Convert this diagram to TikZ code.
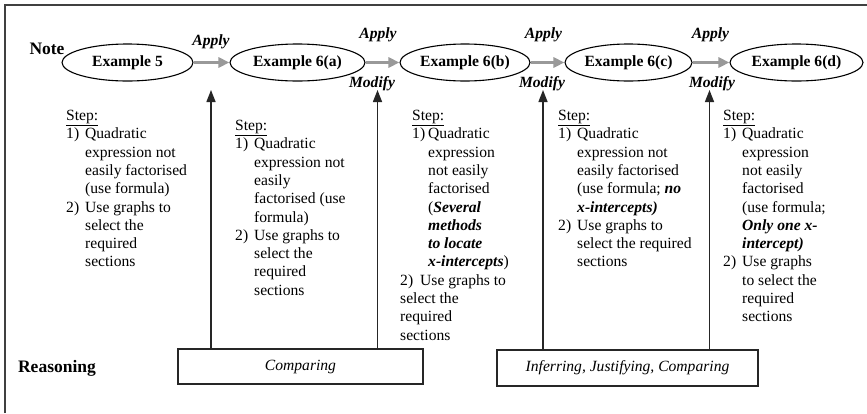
\documentclass[tikz,border=0pt]{standalone}
\usepackage{fontspec}
\setmainfont{Liberation Serif}
\usetikzlibrary{shapes.geometric,arrows.meta}
\newcommand\itmlbl[1]{\makebox[19pt][l]{#1}}
\newcommand\itmind{\hspace*{19pt}}
\newcommand\bitx[1]{\textbf{\textit{#1}}}
\begin{document}
\begin{tikzpicture}[x=1pt,y=-1pt,
  frameline/.style={draw=black!75,line width=1.4pt},
  ell/.style={draw,ellipse,line width=1.1pt,inner sep=0pt,minimum height=37pt,
    font=\fontsize{15.6}{18}\selectfont\bfseries},
  garrow/.style={draw=black!40,line width=3pt,
    -{Triangle[length=11pt,width=10pt,fill=black!40]}},
  varrow/.style={draw=black!85,line width=1.4pt,
    -{Triangle[length=12pt,width=9pt,fill=black!85]}},
  lbl/.style={inner sep=0pt,font=\fontsize{15.6}{18}\selectfont\bfseries\itshape},
  rowlbl/.style={inner sep=0pt,font=\fontsize{17.5}{20}\selectfont\bfseries},
  coltext/.style={anchor=north west,inner sep=0pt,align=left,
    font=\fontsize{15.6}{18.3}\selectfont},
  rbox/.style={draw=black!85,line width=1.2pt,inner sep=0pt,
    font=\fontsize{15.6}{18}\selectfont\itshape}]
\useasboundingbox (0,0) rectangle (867,413);
\fill[white] (0,0) rectangle (867,413);
\draw[frameline] (5,413) -- (5,5) -- (867,5);

% labels of rows
\node[rowlbl] (note) at (47,49) {Note};
\node[rowlbl] (reas) at (57,368) {Reasoning};

% ellipses
\node[ell,minimum width=131pt] (e1) at (127.5,62.5) {Example 5};
\node[ell,minimum width=135pt] (e2) at (297.5,62.5) {Example 6(a)};
\node[ell,minimum width=130pt] (e3) at (465,62.5) {Example 6(b)};
\node[ell,minimum width=127pt] (e4) at (628.5,62.5) {Example 6(c)};
\node[ell,minimum width=133pt] (e5) at (796.5,62.5) {Example 6(d)};

\draw[garrow] (e1) -- (e2);
\draw[garrow] (e2) -- (e3);
\draw[garrow] (e3) -- (e4);
\draw[garrow] (e4) -- (e5);

\node[lbl] (a1) at (211,42) {Apply};
\node[lbl] (a2) at (378,35) {Apply};
\node[lbl] (a3) at (543.5,35) {Apply};
\node[lbl] (a4) at (710.5,35) {Apply};

\node[lbl] (m1) at (372,84) {Modify};
\node[lbl] (m2) at (542,84) {Modify};
\node[lbl] (m3) at (712,84) {Modify};

% reasoning boxes
\node[rbox,minimum width=245pt,minimum height=35pt] (cmp) at (300.5,366.5) {Comparing};
\node[rbox,minimum width=261pt,minimum height=36pt] (inf) at (627.5,368) {Inferring, Justifying, Comparing};

\coordinate (t1) at (211,90);
\coordinate (t2) at (377.5,90);
\coordinate (t3) at (543,90);
\coordinate (t4) at (709.5,90);
\draw[varrow] (cmp.north -| t1) -- (t1);
\draw[varrow] (cmp.north -| t2) -- (t2);
\draw[varrow] (inf.north -| t3) -- (t3);
\draw[varrow] (inf.north -| t4) -- (t4);

% step columns
\node[coltext] (c1) at (66,110) {\underline{Step:}\\
\itmlbl{1)}Quadratic\\
\itmind expression not\\
\itmind easily factorised\\
\itmind (use formula)\\
\itmlbl{2)}Use graphs to\\
\itmind select the\\
\itmind required\\
\itmind sections};

\node[coltext] (c2) at (235,120) {\underline{Step:}\\
\itmlbl{1)}Quadratic\\
\itmind expression not\\
\itmind easily\\
\itmind factorised (use\\
\itmind formula)\\
\itmlbl{2)}Use graphs to\\
\itmind select the\\
\itmind required\\
\itmind sections};

\node[coltext] (c3) at (400,110) {\hspace*{12pt}\underline{Step:}\\
\hspace*{12pt}\makebox[16pt][l]{1)}Quadratic\\
\hspace*{28pt}expression\\
\hspace*{28pt}not easily\\
\hspace*{28pt}factorised\\
\hspace*{28pt}(\bitx{Several}\\
\hspace*{28pt}\bitx{methods}\\
\hspace*{28pt}\bitx{to locate}\\
\hspace*{28pt}\bitx{x-intercepts})\\
\makebox[20pt][l]{2)}Use graphs to\\
select the\\
required\\
sections};

\node[coltext] (c4) at (558,110) {\underline{Step:}\\
\itmlbl{1)}Quadratic\\
\itmind expression not\\
\itmind easily factorised\\
\itmind (use formula; \bitx{no}\\
\itmind \bitx{x-intercepts)}\\
\itmlbl{2)}Use graphs to\\
\itmind select the required\\
\itmind sections};

\node[coltext] (c5) at (723,110) {\underline{Step:}\\
\itmlbl{1)}Quadratic\\
\itmind expression\\
\itmind not easily\\
\itmind factorised\\
\itmind (use formula;\\
\itmind \bitx{Only one x-}\\
\itmind \bitx{intercept)}\\
\itmlbl{2)}Use graphs\\
\itmind to select the\\
\itmind required\\
\itmind sections};
\end{tikzpicture}
\end{document}
